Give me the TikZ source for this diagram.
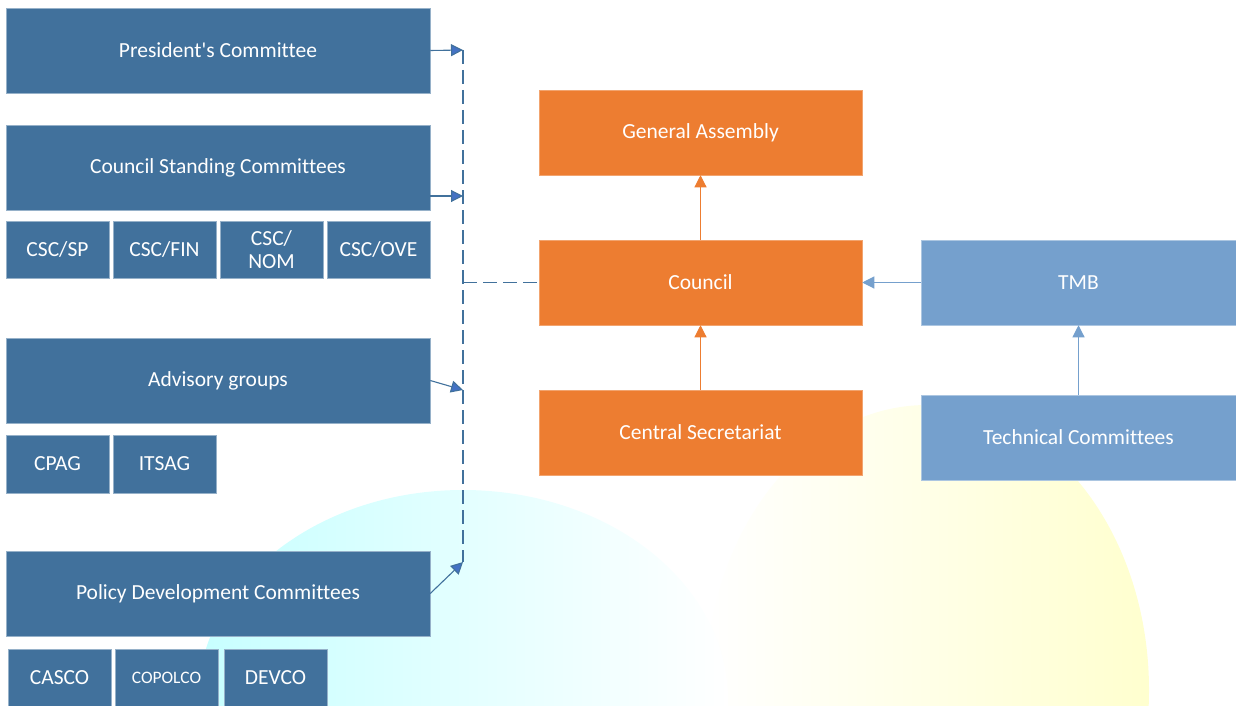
\documentclass[tikz,border=0pt]{standalone}
\usepackage{fontspec}
\setmainfont{Carlito}[Ligatures={NoCommon}]
\usetikzlibrary{arrows.meta}
\definecolor{dblue}{HTML}{41719C}
\definecolor{lblue}{HTML}{75A0CD}
\definecolor{orng}{HTML}{ED7D31}
\definecolor{arrblue}{HTML}{4472C4}
\begin{document}
\begin{tikzpicture}[x=1pt,y=-1pt,
  box/.style={rectangle, inner sep=0pt, text=white, align=center,
    font=\fontsize{21.5}{24}\selectfont},
  dbox/.style={box, fill=dblue, draw=dblue!55!white, line width=0.5pt},
  obox/.style={box, fill=orng, draw=orng!70!white, line width=0.5pt, minimum width=323pt, minimum height=85pt},
  lbox/.style={box, fill=lblue, draw=lblue!60!white, line width=0.5pt, minimum width=315pt, minimum height=85pt},
  widebox/.style={minimum width=424pt, minimum height=85pt},
  smallbox/.style={minimum width=103pt, minimum height=57pt},
  conn/.style={draw=dblue, line width=1.1pt, -{Triangle[length=12pt,width=12pt,fill=arrblue]}},
  busline/.style={draw=dblue, line width=1.1pt, dash pattern=on 14pt off 6pt},
  oarr/.style={draw=orng, line width=1.1pt, -{Triangle[length=12pt,width=12pt]}},
  barr/.style={draw=lblue, line width=1.1pt, -{Triangle[length=12pt,width=12pt]}}
]
\useasboundingbox (0,0) rectangle (1236,706);
% background
\begin{scope}
  \clip (0,0) rectangle (1236,706);
  \shade[left color=white, right color=yellow!19] (927,690) ellipse [x radius=222, y radius=285];
  \shade[left color=cyan!22, middle color=cyan!16, right color=white] (463,700) ellipse [x radius=265, y radius=210];
\end{scope}
% left column
\node[dbox, widebox] (pres) at (218,50.5) {President\textquotesingle s Committee};
\node[dbox, widebox] (csc) at (218,167.5) {Council Standing Committees};
\node[dbox, smallbox] (cscsp) at (57.5,249.5) {CSC/SP};
\node[dbox, smallbox] (cscfin) at (164.5,249.5) {CSC/FIN};
\node[dbox, smallbox, font=\fontsize{21.5}{23}\selectfont] (cscnom) at (271.5,249.5) {CSC/\\NOM};
\node[dbox, smallbox] (cscove) at (378.5,249.5) {CSC/OVE};
\node[dbox, widebox] (adv) at (218,380.5) {Advisory groups};
\node[dbox, smallbox, minimum height=58pt] (cpag) at (57.5,464) {CPAG};
\node[dbox, smallbox, minimum height=58pt] (itsag) at (164.5,464) {ITSAG};
\node[dbox, widebox] (pol) at (218,593.5) {Policy Development Committees};
\node[dbox, smallbox, minimum height=58pt] (casco) at (59.5,678) {CASCO};
\node[dbox, smallbox, minimum height=58pt, font=\fontsize{17.5}{20}\selectfont] (copolco) at (166.5,678) {COPOLCO};
\node[dbox, smallbox, minimum height=58pt] (devco) at (275.5,678) {DEVCO};
% centre column
\node[obox] (ga) at (700.5,132.5) {General Assembly};
\node[obox] (council) at (700.5,282.5) {Council};
\node[obox] (cs) at (700.5,432.5) {Central Secretariat};
% right column
\node[lbox] (tmb) at (1078.5,282.5) {TMB};
\node[lbox] (tc) at (1078.5,437.5) {Technical Committees};
% bus coordinates
\coordinate (b1) at (463,50);
\coordinate (b2) at (463,196);
\coordinate (b3) at (463,390);
\coordinate (b4) at (463,562);
\coordinate (bc) at (463,282.5);
% connectors
\draw[busline] (b1) -- (b4);
\draw[busline] (bc) -- (council.west);
\draw[conn] (pres.east) -- (b1);
\draw[conn] (csc.east |- b2) -- (b2);
\draw[conn] (adv.east) -- (b3);
\draw[conn] (pol.east) -- (b4);
\draw[oarr] (council.north) -- (ga.south);
\draw[oarr] (cs.north) -- (council.south);
\draw[barr] (tmb.west) -- (council.east);
\draw[barr] (tc.north -| tmb.south) -- (tmb.south);
\end{tikzpicture}
\end{document}
